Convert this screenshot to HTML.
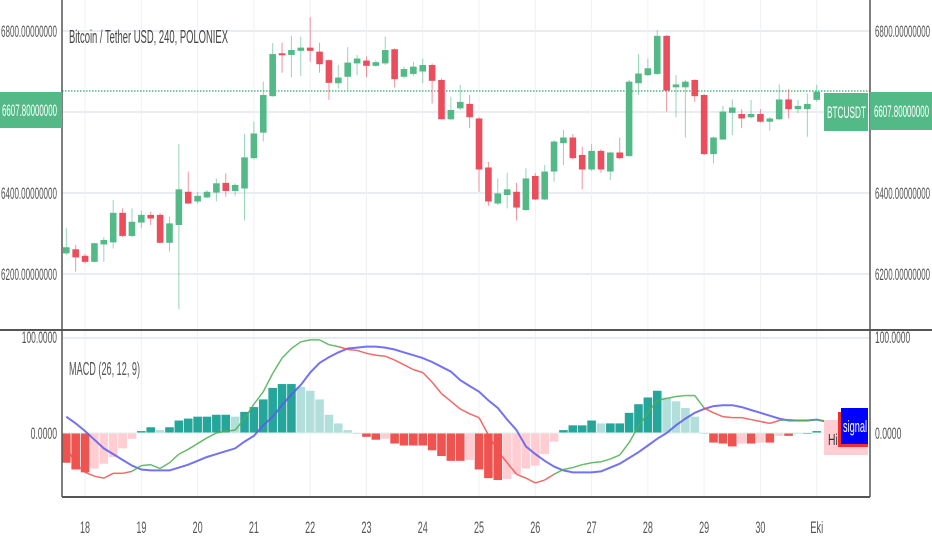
<!DOCTYPE html>
<html><head><meta charset="utf-8"><style>
html,body{margin:0;padding:0;background:#fff;width:932px;height:550px;overflow:hidden}
svg{display:block;font-family:"Liberation Sans",sans-serif}
</style></head><body>
<svg id="chart" width="932" height="550" viewBox="0 0 932 550">
<g id="grid"></g>
<g id="candles"></g>
<g id="macdPane"></g>
<g id="axes"></g>
</svg>
<script>
const opens=[6251,6261,6245,6230,6273,6278,6351,6294,6327,6346,6346,6277,6321,6403,6379,6389,6401,6425,6405,6411,6486,6549,6639,6745,6741,6751,6759,6749,6728,6671,6687,6720,6727,6714,6720,6755,6687,6694,6700,6716,6679,6582,6609,6620,6584,6463,6374,6395,6403,6358,6442,6384,6453,6523,6537,6494,6458,6504,6453,6500,6491,6671,6691,6694,6788,6661,6661,6679,6642,6496,6532,6598,6595,6587,6595,6576,6582,6631,6607,6607,6630,6646,6605,6592];
const highs=[6313,6272,6249,6277,6291,6383,6362,6362,6356,6354,6350,6342,6521,6453,6403,6407,6436,6449,6424,6546,6576,6675,6770,6771,6788,6786,6834,6771,6730,6716,6760,6741,6737,6728,6786,6757,6712,6724,6732,6720,6683,6638,6667,6642,6588,6477,6436,6450,6425,6461,6449,6469,6531,6556,6546,6514,6521,6508,6502,6537,6679,6743,6732,6802,6790,6691,6679,6681,6644,6539,6615,6631,6607,6630,6607,6588,6668,6656,6630,6646,6667,6656,6613,6600];
const lows=[6247,6206,6226,6229,6230,6263,6291,6291,6313,6321,6276,6255,6113,6373,6374,6387,6379,6391,6393,6332,6483,6527,6638,6697,6686,6689,6724,6697,6630,6658,6654,6691,6686,6712,6716,6661,6683,6689,6671,6621,6582,6580,6605,6560,6403,6368,6370,6362,6332,6356,6383,6383,6428,6469,6483,6409,6455,6450,6432,6483,6490,6642,6689,6691,6601,6587,6537,6625,6494,6473,6531,6543,6560,6584,6574,6554,6580,6584,6597,6539,6625,6597,6513,6547];
const closes=[6266,6241,6230,6276,6284,6351,6294,6329,6346,6337,6277,6325,6409,6374,6393,6403,6424,6405,6420,6488,6547,6642,6743,6740,6753,6759,6751,6718,6672,6685,6722,6732,6714,6723,6753,6681,6706,6712,6716,6677,6582,6605,6625,6587,6458,6379,6399,6409,6364,6436,6384,6453,6527,6537,6486,6458,6504,6458,6500,6486,6675,6695,6708,6788,6653,6668,6675,6639,6496,6537,6601,6611,6584,6595,6576,6584,6631,6607,6615,6620,6650,6605,6592,6596];
const histogram=[-31,-38,-41,-37,-32,-25,-16,-6,2,6,3,6,13,15,17,17,19,19,17,22,27,35,47,51,51,48,44,35,19,10,3,0,-4,-7,-6,-11,-13,-13,-13,-18,-24,-29,-29,-28,-38,-47,-49,-48,-43,-37,-34,-22,-9,3,8,8,13,10,10,10,21,30,37,44,37,33,26,17,0,-10,-11,-14,-11,-11,-10,-10,-3,-3,-1,0,2,0];
const macdLine=[-15,-32,-41,-45,-47,-42,-42,-40,-34,-33,-37,-31,-22,-17,-11,-5,0,2,3,15,30,43,62,78,88,95,97,97,92,90,87,86,83,81,80,76,71,66,63,53,41,33,25,20,16,-2,-19,-31,-43,-47,-52,-49,-43,-38,-36,-33,-31,-30,-27,-23,-10,7,21,34,36,38,39,39,26,21,17,16,16,14,12,10,13,14,13,13,14,12];
const signalLine=[17,10,2,-7,-16,-22,-28,-34,-38,-39,-39,-39,-36,-33,-29,-25,-22,-19,-16,-9,-3,8,17,29,40,50,63,73,79,84,88,89,90,90,89,87,84,81,78,74,69,64,55,49,43,34,26,14,3,-14,-22,-29,-35,-39,-41,-41,-41,-40,-36,-32,-26,-20,-13,-6,0,8,15,21,25,28,29,29,27,24,21,18,15,13,13,13,14,12];
const priceTicks=[6200,6400,6600,6800];
const priceTickLabels=["6200.00000000","6400.00000000","","6800.00000000"];
const macdTicks=[0,100];
const macdTickLabels=["0.0000","100.0000"];
const dayLabels=["18","19","20","21","22","23","24","25","26","27","28","29","30","Eki"];
const lastPrice=6607.8;
const lastPriceLabel="6607.80000000";

const NS="http://www.w3.org/2000/svg";
const L=62,R=870;
const xOf=i=>66.3+i*9.38;
const yP=p=>31+(6800-p)*81/200;
const yM=v=>433-v*0.96;
function mk(parent,tag,attrs,text){const e=document.createElementNS(NS,tag);for(const k in attrs)e.setAttribute(k,attrs[k]);if(text!==undefined)e.textContent=text;parent.appendChild(e);return e;}
const grid=document.getElementById('grid'),cg=document.getElementById('candles'),mp=document.getElementById('macdPane'),ax=document.getElementById('axes');
function label(x,y,txt,len,anchor,fill,size,name){const t=mk(ax,'text',{x:x,y:y,'font-size':size||14,fill:fill||'#555','text-anchor':anchor||'start',textLength:len,lengthAdjust:'spacingAndGlyphs'},txt);

return t;}

// grid
priceTicks.forEach(p=>{const l=mk(grid,'line',{x1:L,x2:R,y1:yP(p),y2:yP(p),stroke:'#e9ecf0','stroke-width':2});

});
dayLabels.forEach((d,k)=>{const x=xOf(2+6*k);
const l=mk(grid,'line',{x1:x,x2:x,y1:0,y2:497,stroke:'#eef0f3','stroke-width':1});


const len=d.length===3?13:10;
label(x-len/2,533,d,len,'start','#555',17,'x-tick-label');});
const mg=mk(grid,'line',{x1:L,x2:R,y1:yM(100)+1,y2:yM(100)+1,stroke:'#e9ecf0','stroke-width':2});



// price line
const pl=mk(cg,'line',{x1:L,x2:R,y1:91,y2:91,stroke:'#53b987','stroke-width':1.5,'stroke-dasharray':'1.5 1.5'});



// candles
opens.forEach((o,i)=>{const c=closes[i],up=c>=o,col=up?'#53b987':'#eb4d5c',x=xOf(i);
if(x>826)return;
const w=mk(cg,'line',{x1:x,x2:x,y1:yP(highs[i]),y2:yP(lows[i]),stroke:col,'stroke-width':1,opacity:0.6});


const top=yP(Math.max(o,c)),bot=yP(Math.min(o,c));
const b=mk(cg,'rect',{x:x-3.3,y:top,width:6.6,height:Math.max(1.5,bot-top),fill:col});

});

// histogram
histogram.forEach((v,i)=>{const x=xOf(i);if(x>826)return;const prev=i>0?histogram[i-1]:v;
let col;if(v>=0)col=v>=prev?'#26a69a':'#b2dfdb';else col=v<=prev?'#ef5350':'#ffcdd2';
const y0=yM(0),y1=yM(v);
const r=mk(mp,'rect',{x:Math.max(L,x-4.3),y:Math.min(y0,y1),width:8.6,height:Math.max(1,Math.abs(y1-y0)),fill:col});

});
const zl=mk(mp,'line',{x1:L,x2:826,y1:yM(0),y2:yM(0),stroke:'#e0f0ee','stroke-width':1});



// signal line
let sd='';signalLine.forEach((v,i)=>{sd+=(i?'L':'M')+xOf(i).toFixed(1)+' '+yM(v).toFixed(1);});
const sp=mk(mp,'path',{d:sd,fill:'none',stroke:'#5b5bf0','stroke-width':2,opacity:0.85});


// macd line segments
for(let i=1;i<macdLine.length;i++){const col=macdLine[i]>=signalLine[i]?'#4caf50':'#f05050';
const s=mk(mp,'line',{x1:xOf(i-1),y1:yM(macdLine[i-1]),x2:xOf(i),y2:yM(macdLine[i]),stroke:col,'stroke-width':1.5,opacity:0.85});

}

// axes lines
[[0,330,932,330,2],[L,0,L,497,1.5],[R,0,R,497,1.5],[L,497,R,497,2]].forEach(a=>{const l=mk(ax,'line',{x1:a[0],y1:a[1],x2:a[2],y2:a[3],stroke:'#555','stroke-width':a[4]});

});

priceTicks.forEach((p,k)=>{if(!priceTickLabels[k])return;const y=yP(p)+6;
label(1,y,priceTickLabels[k],56,'start','#555',17,'left-price-label');
label(875,y,priceTickLabels[k],55,'start','#555',17,'right-price-label');});
macdTicks.forEach((v,k)=>{const y=yM(v)+6;const len=macdTickLabels[k].length*4.4;
label(57-len,y,macdTickLabels[k],len,'start','#555',17,'left-macd-label');
label(875,y,macdTickLabels[k],len,'start','#555',17,'right-macd-label');});

// last price boxes
const lb=mk(ax,'rect',{x:0,y:92,width:62,height:36,fill:'#53b987'});


label(2,116,lastPriceLabel,55,'start','#fff',17,'last-price-text-left');
const rb=mk(ax,'rect',{x:870,y:92,width:62,height:38,fill:'#53b987'});


label(874,117,lastPriceLabel,55,'start','#fff',17,'last-price-text-right');
const sb=mk(ax,'rect',{x:824,y:93,width:44,height:38,fill:'#53b987'});


label(827,118,'BTCUSDT',39,'start','#fff',17,'symbol-badge-text');

// titles
label(69,43,'Bitcoin / Tether USD, 240, POLONIEX',159,'start','#444',18,'chart-title');
label(69,375,'MACD (26, 12, 9)',71,'start','#555',18,'macd-title');

// legend boxes
const hb=mk(ax,'rect',{x:824,y:420,width:44,height:35,fill:'#ffcdd2'});


label(828,445,'His',15,'start','#333',16,'histogram-legend-text');
const mb=mk(ax,'rect',{x:838,y:412,width:30,height:35,fill:'#f03030'});


const bb=mk(ax,'rect',{x:841,y:408,width:27,height:36,fill:'#0000ff'});


label(843,432,'signal',24,'start','#fff',17,'signal-legend-text');
</script>
</body></html>
